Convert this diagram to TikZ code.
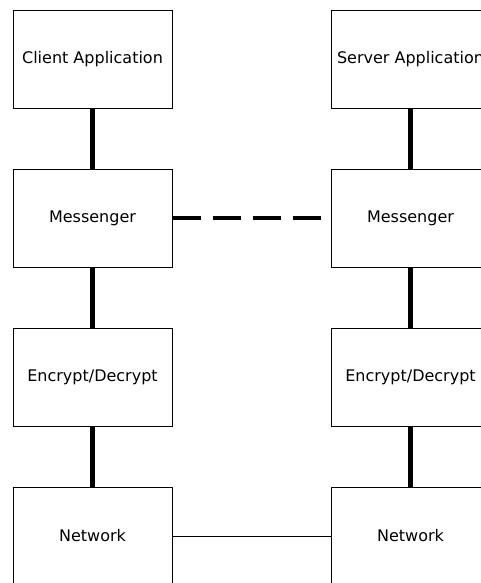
\documentclass[tikz,border=0pt]{standalone}
\usepackage{fontspec}
\setmainfont{DejaVu Sans}
\usepackage{tikz}

\begin{document}
\begin{tikzpicture}[x=0.75pt,y=-0.75pt,
  layer/.style={draw,line width=0.75pt,minimum width=119.25pt,minimum height=73.5pt,inner sep=0pt,font=\fontsize{12}{14}\selectfont},
  thick link/.style={line width=3.75pt},
  peer link/.style={line width=3pt,dash pattern=on 21pt off 9pt}]
\clip (0,0) rectangle (481,583);
\node[layer] (CApp) at (92.5,59) {Client Application};
\node[layer] (CMsg) at (92.5,218) {Messenger};
\node[layer] (CEnc) at (92.5,377) {Encrypt/Decrypt};
\node[layer] (CNet) at (92.5,536) {Network};
\node[layer] (SApp) at (410.5,59) {Server Application};
\node[layer] (SMsg) at (410.5,218) {Messenger};
\node[layer] (SEnc) at (410.5,377) {Encrypt/Decrypt};
\node[layer] (SNet) at (410.5,536) {Network};
\draw[thick link] (CApp) -- (CMsg);
\draw[thick link] (CMsg) -- (CEnc);
\draw[thick link] (CEnc) -- (CNet);
\draw[thick link] (SApp) -- (SMsg);
\draw[thick link] (SMsg) -- (SEnc);
\draw[thick link] (SEnc) -- (SNet);
\draw[peer link] (CMsg) -- (SMsg);
\draw[line width=0.75pt] (CNet) -- (SNet);
\end{tikzpicture}
\end{document}
